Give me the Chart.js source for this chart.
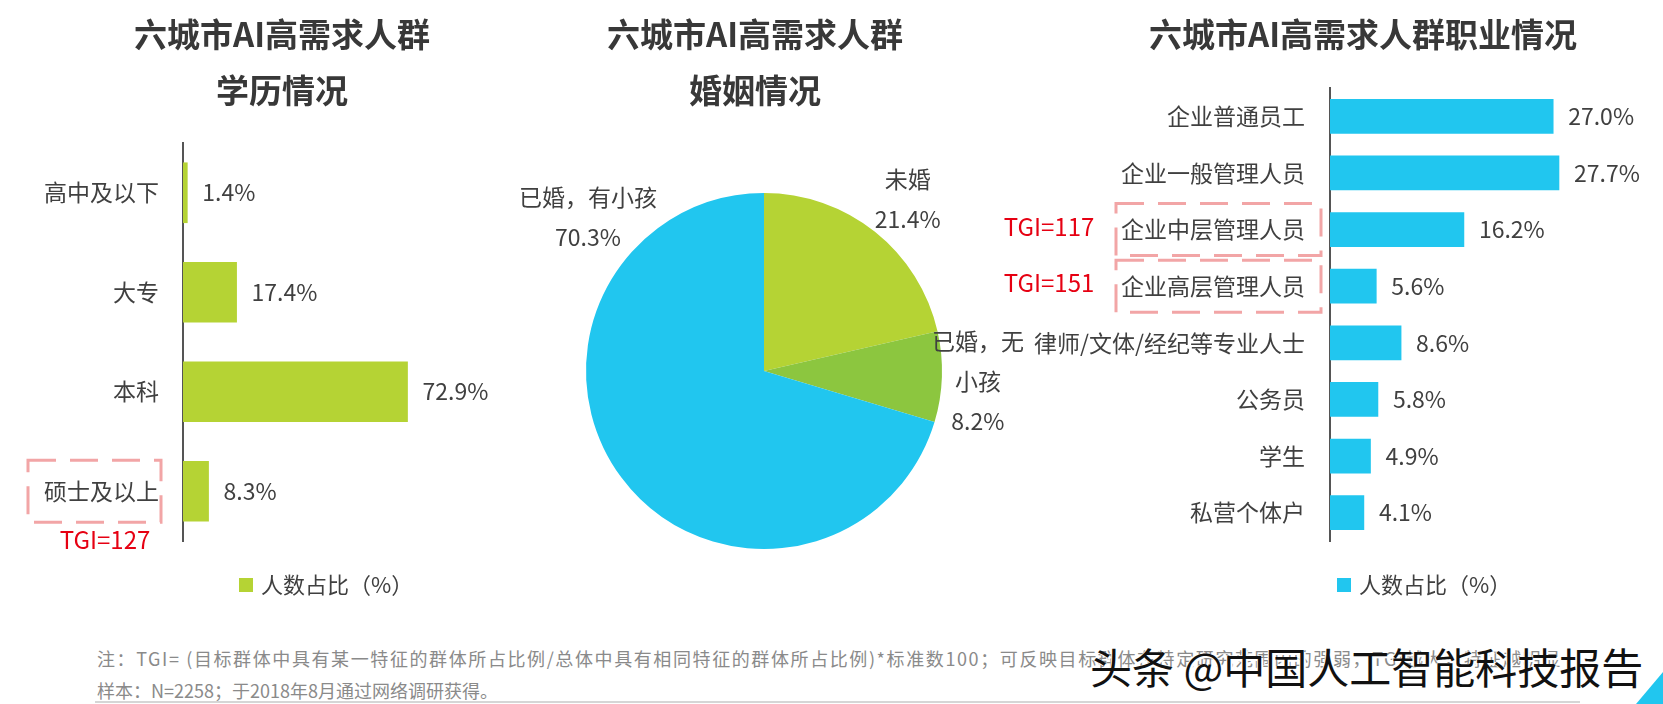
<!DOCTYPE html>
<html lang="zh-CN">
<head>
<meta charset="utf-8">
<title>六城市AI高需求人群画像</title>
<script src="https://cdn.jsdelivr.net/npm/chart.js@4.4.1/dist/chart.umd.min.js"></script>
<style>
    html, body { margin: 0; padding: 0; background: #fff; }
    #page {
        position: relative;
        width: 1663px;
        height: 704px;
        overflow: hidden;
        background: #fff;
        font-family: 'Noto Sans CJK SC', sans-serif;
    }
    canvas { position: absolute; top: 0; }
    #eduChart { left: 0; }
    #marryChart { left: 500px; }
    #jobChart { left: 1000px; }
    .note {
        position: absolute;
        left: 97px;
        color: #8a8a8a;
        font-size: 18px;
        line-height: 24px;
        white-space: nowrap;
    }
    #note1 { top: 646px; letter-spacing: 1.6px; }
    #note2 { top: 678px; }
    #rule {
        position: absolute;
        left: 95px;
        top: 701px;
        width: 1485px;
        height: 2px;
        background: #d6d6d6;
    }
    #mark {
        position: absolute;
        left: 1090px;
        top: 640px;
        font-size: 42px;
        line-height: 52px;
        color: #111;
        white-space: nowrap;
        text-shadow: 2px 2px 0 #fff, -1px 0 0 #fff;
    }
    #corner {
        position: absolute;
        left: 1636px;
        top: 672px;
        width: 27px;
        height: 32px;
        background: #21C6EF;
        clip-path: polygon(100% 0, 100% 100%, 0 100%);
    }
</style>
</head>
<body>
<div id="page">
    <canvas id="eduChart" width="560" height="600"></canvas>
    <canvas id="marryChart" width="540" height="600"></canvas>
    <canvas id="jobChart" width="663" height="600"></canvas>
    <div class="note" id="note1">注：TGI= (目标群体中具有某一特征的群体所占比例/总体中具有相同特征的群体所占比例)*标准数100；可反映目标群体在特定研究范围内的强弱，TGI越大，特征越明显</div>
    <div class="note" id="note2">样本：N=2258；于2018年8月通过网络调研获得。</div>
    <div id="rule"></div>
    <div id="mark">头条 @中国人工智能科技报告</div>
    <div id="corner"></div>
</div>
<script>
// ============================================
// 資料
// ============================================
const eduCategories = ['高中及以下', '大专', '本科', '硕士及以上'];
const eduValues = [1.4, 17.4, 72.9, 8.3];
const eduTgi = [null, null, null, 127];

const marryCategories = ['未婚', ['已婚，无', '小孩'], '已婚，有小孩'];
const marryValues = [21.4, 8.2, 70.3];

const jobCategories = ['企业普通员工', '企业一般管理人员', '企业中层管理人员', '企业高层管理人员',
    '律师/文体/经纪等专业人士', '公务员', '学生', '私营个体户'];
const jobValues = [27.0, 27.7, 16.2, 5.6, 8.6, 5.8, 4.9, 4.1];
const jobTgi = [null, null, 117, 151, null, null, null, null];

const legendLabel = '人数占比（%）';

// ============================================
// 樣式
// ============================================
const FONT = "'Noto Sans CJK SC', sans-serif";
const TEXT_COLOR = '#404040';
const TITLE_COLOR = '#383838';
const LIME = '#B5D334';
const GREEN = '#8CC63F';
const CYAN = '#21C6EF';
const TGI_RED = '#E60012';
const TGI_BOX = '#F2A5A6';

// 圓餅圖標籤位置（角度、相對半徑）
const pieLabelPos = [
    { angle: -50, dist: 1.256 },
    { angle: 2.7, dist: 1.203 },
    { angle: -138.8, dist: 1.314 }
];

// 標題與圖例
function headerPlugin(cfg) {
    return {
        id: 'header',
        afterDraw: function (chart) {
            const ctx = chart.ctx;
            ctx.save();
            ctx.fillStyle = TITLE_COLOR;
            ctx.font = 'bold ' + cfg.titleSize + 'px ' + FONT;
            ctx.textAlign = 'center';
            ctx.textBaseline = 'middle';
            cfg.title.forEach(function (line, i) {
                ctx.fillText(line, cfg.titleX, cfg.titleY + i * 56);
            });
            if (cfg.legendX !== undefined) {
                const ds = chart.data.datasets[0];
                ctx.fillStyle = ds.backgroundColor;
                ctx.fillRect(cfg.legendX, cfg.legendY - 7, 14, 14);
                ctx.fillStyle = TEXT_COLOR;
                ctx.font = '22px ' + FONT;
                ctx.textAlign = 'left';
                ctx.fillText(ds.label, cfg.legendX + 22, cfg.legendY);
            }
            ctx.restore();
        }
    };
}

// 長條數值標籤
const barValuePlugin = {
    id: 'barValues',
    afterDatasetsDraw: function (chart) {
        const ctx = chart.ctx;
        const meta = chart.getDatasetMeta(0);
        const data = chart.data.datasets[0].data;
        ctx.save();
        ctx.font = '23px ' + FONT;
        ctx.fillStyle = TEXT_COLOR;
        ctx.textAlign = 'left';
        ctx.textBaseline = 'middle';
        meta.data.forEach(function (bar, i) {
            ctx.fillText(data[i].toFixed(1) + '%', bar.x + 15, bar.y);
        });
        ctx.restore();
    }
};

// TGI 虛線框
function tgiPlugin(tgi, box) {
    return {
        id: 'tgi',
        afterDraw: function (chart) {
            const ctx = chart.ctx;
            const yScale = chart.scales.y;
            ctx.save();
            tgi.forEach(function (v, i) {
                if (v === null) return;
                const cy = yScale.getPixelForValue(i);
                ctx.strokeStyle = TGI_BOX;
                ctx.lineWidth = 3;
                ctx.setLineDash([28, 14]);
                ctx.strokeRect(box.x0, cy - box.half, box.x1 - box.x0, box.half * 2);
                ctx.setLineDash([]);
                ctx.fillStyle = TGI_RED;
                ctx.font = '24px ' + FONT;
                ctx.textAlign = 'center';
                ctx.textBaseline = 'middle';
                ctx.fillText('TGI=' + v, box.textX, cy + box.textDy);
            });
            ctx.restore();
        }
    };
}

function makeBarChart(id, labels, values, color, tgi, o) {
    return new Chart(document.getElementById(id), {
        type: 'bar',
        data: {
            labels: labels,
            datasets: [{
                label: legendLabel,
                data: values,
                backgroundColor: color,
                borderWidth: 0,
                barThickness: o.barThickness
            }]
        },
        options: {
            indexAxis: 'y',
            responsive: false,
            animation: false,
            layout: { padding: o.padding },
            plugins: {
                legend: { display: false },
                tooltip: { enabled: false }
            },
            scales: {
                x: { display: false, min: 0, max: o.xMax },
                y: {
                    afterFit: function (scale) {
                        scale.width = o.axisX - o.padding.left;
                    },
                    grid: { display: false, drawTicks: false },
                    border: { display: true, color: '#555555', width: 2 },
                    ticks: {
                        color: TEXT_COLOR,
                        autoSkip: false,
                        padding: o.tickPad,
                        font: { family: FONT, size: 23 }
                    }
                }
            }
        },
        plugins: [barValuePlugin, headerPlugin(o.header), tgiPlugin(tgi, o.tgiBox)]
    });
}

document.addEventListener('DOMContentLoaded', function () {
    // 學歷情況
    makeBarChart('eduChart', eduCategories, eduValues, LIME, eduTgi, {
        padding: { left: 0, top: 143, right: 69, bottom: 59 },
        axisX: 183,
        xMax: 100,
        barThickness: 60,
        tickPad: 24,
        header: {
            title: ['六城市AI高需求人群', '学历情况'],
            titleSize: 33, titleX: 282, titleY: 34,
            legendX: 239, legendY: 585
        },
        tgiBox: { x0: 28, x1: 161, half: 31, textX: 105, textDy: 49 }
    });

    // 婚姻情況
    new Chart(document.getElementById('marryChart'), {
        type: 'pie',
        data: {
            labels: marryCategories,
            datasets: [{
                data: marryValues,
                backgroundColor: [LIME, GREEN, CYAN],
                borderWidth: 0
            }]
        },
        options: {
            responsive: false,
            animation: false,
            layout: { padding: { left: 86, right: 98, top: 193, bottom: 51 } },
            plugins: {
                legend: { display: false },
                tooltip: { enabled: false }
            }
        },
        plugins: [{
            id: 'pieLabels',
            afterDatasetsDraw: function (chart) {
                const ctx = chart.ctx;
                const meta = chart.getDatasetMeta(0);
                const data = chart.data.datasets[0].data;
                ctx.save();
                ctx.font = '23px ' + FONT;
                ctx.fillStyle = TEXT_COLOR;
                ctx.textAlign = 'center';
                ctx.textBaseline = 'middle';
                meta.data.forEach(function (arc, i) {
                    const pos = pieLabelPos[i];
                    const a = pos.angle * Math.PI / 180;
                    const cx = arc.x + Math.cos(a) * arc.outerRadius * pos.dist;
                    const cy = arc.y + Math.sin(a) * arc.outerRadius * pos.dist;
                    const name = chart.data.labels[i];
                    const lines = (Array.isArray(name) ? name : [name]).concat(data[i].toFixed(1) + '%');
                    const top = cy - (lines.length - 1) * 40 / 2;
                    lines.forEach(function (line, k) {
                        ctx.fillText(line, cx, top + k * 40);
                    });
                });
                ctx.restore();
            }
        }, headerPlugin({
            title: ['六城市AI高需求人群', '婚姻情况'],
            titleSize: 33, titleX: 255, titleY: 34
        })]
    });

    // 職業情況
    makeBarChart('jobChart', jobCategories, jobValues, CYAN, jobTgi, {
        padding: { left: 0, top: 88, right: 85, bottom: 59 },
        axisX: 330,
        xMax: 30,
        barThickness: 34,
        tickPad: 25,
        header: {
            title: ['六城市AI高需求人群职业情况'],
            titleSize: 33, titleX: 363, titleY: 34,
            legendX: 337, legendY: 585
        },
        tgiBox: { x0: 116, x1: 321, half: 26, textX: 49, textDy: -3 }
    });
});
</script>
</body>
</html>
